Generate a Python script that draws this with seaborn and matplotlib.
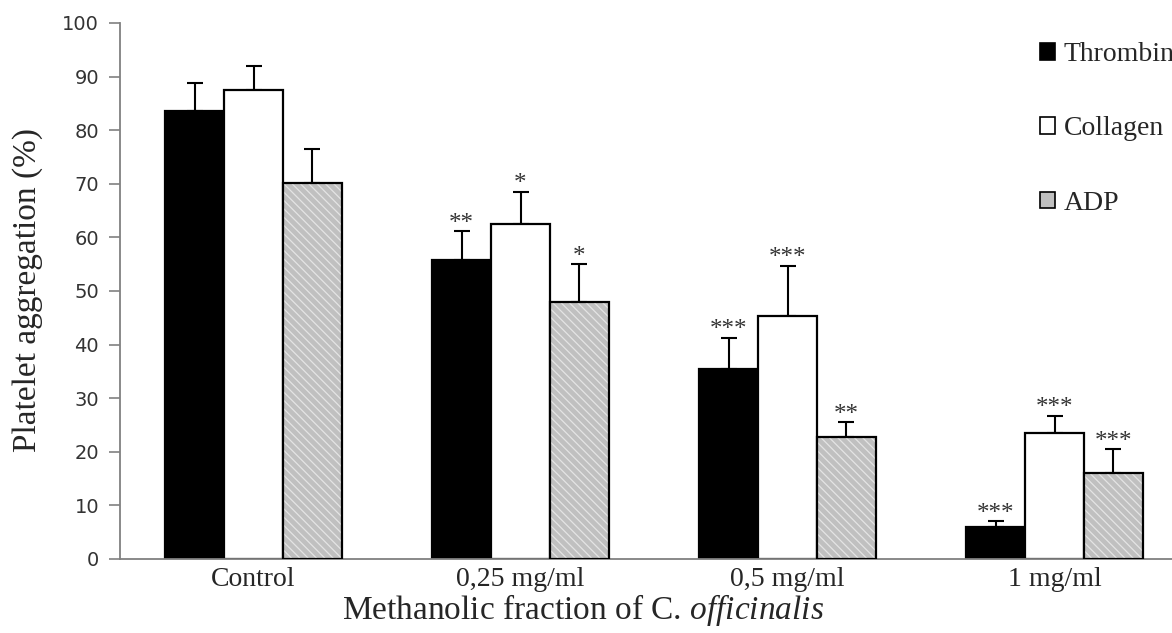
import numpy as np
import pandas as pd
import matplotlib
matplotlib.use("Agg")
import matplotlib.pyplot as plt
import seaborn as sns
from matplotlib.patches import Patch, Rectangle

groups = ["Control", "0,25 mg/ml", "0,5 mg/ml", "1 mg/ml"]
agents = ["Thrombin", "Collagen", "ADP"]
thrombin = [83.5, 55.8, 35.5, 6.0]
collagen = [87.5, 62.5, 45.4, 23.5]
adp = [70.2, 48.0, 22.8, 16.0]
thrombin_err = [5.3, 5.4, 5.8, 1.0]
collagen_err = [4.5, 6.0, 9.3, 3.2]
adp_err = [6.3, 7.0, 2.7, 4.5]
thrombin_sig = ["", "**", "***", "***"]
collagen_sig = ["", "*", "***", "***"]
adp_sig = ["", "*", "**", "***"]
yticks = list(range(0, 101, 10))

means = [thrombin, collagen, adp]
errs = [thrombin_err, collagen_err, adp_err]
sigs = [thrombin_sig, collagen_sig, adp_sig]
colors = ["#000000", "#ffffff", "#c0c0c0"]

df = pd.DataFrame({
    "group": groups * 3,
    "agent": np.repeat(agents, len(groups)),
    "value": thrombin + collagen + adp,
})

sns.set_style("white")
plt.rcParams["font.family"] = ["Liberation Serif", "DejaVu Serif"]
plt.rcParams["mathtext.fontset"] = "custom"
plt.rcParams["mathtext.rm"] = "Liberation Serif"
plt.rcParams["mathtext.it"] = "Liberation Serif:italic"
plt.rcParams["hatch.linewidth"] = 0.9

fig = plt.figure(figsize=(11.72, 6.33), dpi=100)
ax = fig.add_axes([120 / 1172, 1 - 559 / 633, 1 - 120 / 1172, (559 - 23) / 633])

sns.barplot(data=df, x="group", y="value", hue="agent", order=groups,
            hue_order=agents, palette=colors, edgecolor="black", linewidth=1.6,
            width=0.66, errorbar=None, legend=False, saturation=1, ax=ax)

bars = [p for p in ax.patches if isinstance(p, Rectangle) and p.get_height() > 0]
bars.sort(key=lambda b: b.get_x())
nh = len(agents)
for ci in range(nh):
    sub = bars[ci::nh]
    xs = [b.get_x() + b.get_width() / 2 for b in sub]
    ax.errorbar(xs, means[ci], yerr=[np.zeros(len(xs)), errs[ci]], fmt="none",
                ecolor="black", elinewidth=1.5, capsize=6, capthick=1.5, zorder=0.5)
    for x, m, e, s in zip(xs, means[ci], errs[ci], sigs[ci]):
        if s:
            ax.annotate(s, (x, m + e), xytext=(0, 1), textcoords="offset points",
                        ha="center", va="baseline", fontsize=18, color="#333333")
    if ci == 2:
        for b in sub:
            b.set_hatch("\\\\\\\\")
            b.set_edgecolor("#e4e4e4")
            b.set_linewidth(0)
            outline = Rectangle((b.get_x(), b.get_y()), b.get_width(), b.get_height(),
                                fill=False, edgecolor="black", linewidth=1.6, zorder=3)
            ax.add_patch(outline)

ax.set_ylim(0, 100)
ax.set_xlim(-0.5, 3.44)
ax.set_yticks(yticks)
ax.set_yticklabels([str(t) for t in yticks], family="DejaVu Sans", fontsize=14,
                   color="#333333")
ax.set_xticks(range(len(groups)))
ax.set_xticklabels(groups, fontsize=20)
ax.set_xticks([0.5, 1.5, 2.5], minor=True)
ax.tick_params(axis="x", which="major", length=0, pad=6)
ax.tick_params(axis="x", which="minor", length=8, width=1.2, color="#808080",
               direction="out")
ax.tick_params(axis="y", length=8, width=1.2, color="#808080", direction="out", pad=7,
               left=True)
ax.set_xlabel("")
ax.set_ylabel("")
for sp in ["top", "right"]:
    ax.spines[sp].set_visible(False)
for sp in ["left", "bottom"]:
    ax.spines[sp].set_color("#808080")
    ax.spines[sp].set_linewidth(1.3)

fig.text(28 / 1172, 1 - 290 / 633, "Platelet aggregation (%)", rotation=90,
         ha="center", va="center", fontsize=24)
fig.text(583 / 1172, 1 - 610 / 633, r"Methanolic fraction of C. $\mathit{officinalis}$",
         ha="center", va="center", fontsize=24)

handles = [Patch(facecolor=c, edgecolor="black", linewidth=1.2) for c in colors]
ax.legend(handles, agents, loc="upper left", bbox_to_anchor=(1040 / 1172, 1 - 42 / 633),
          bbox_transform=fig.transFigure, frameon=False, fontsize=20, handlelength=0.55,
          handleheight=0.55, handletextpad=0.3, labelspacing=1.78, borderpad=0,
          borderaxespad=0)

fig.savefig("out.png", dpi=100)
